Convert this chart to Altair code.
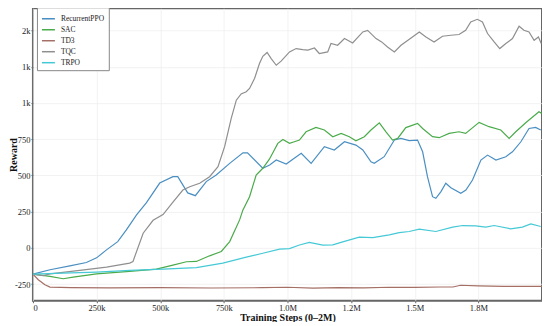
import altair as alt
import pandas as pd

# ---- data (steps in thousands, reward) ----
ppo_steps = [0, 67, 145, 210, 250, 289, 333, 367, 407, 446, 498, 550, 569, 608, 638, 681, 720, 773, 825, 843,
             903, 930, 956, 995, 1054, 1093, 1145, 1184, 1224, 1269, 1296, 1328, 1341, 1380, 1420, 1446, 1478,
             1511, 1531, 1550, 1570, 1583, 1603, 1622, 1642, 1681, 1701, 1727, 1760, 1786, 1819, 1858, 1884,
             1917, 1949, 1975, 1995]
ppo_vals = [-181, -151, -124, -101, -69, -14, 43, 124, 227, 312, 447, 491, 491, 379, 360, 457, 503, 583, 656, 656,
            549, 572, 606, 578, 652, 583, 698, 675, 732, 709, 675, 594, 583, 629, 744, 755, 740,
            744, 663, 491, 353, 342, 388, 446, 415, 377, 399, 468, 606, 640, 606, 629, 663,
            732, 824, 831, 813]

sac_steps = [0, 67, 119, 158, 250, 380, 485, 550, 603, 642, 694, 740, 773, 812, 825, 851, 877, 903, 929, 962,
             982, 1008, 1027, 1047, 1073, 1112, 1145, 1178, 1211, 1243, 1269, 1302, 1328, 1361, 1387, 1413, 1433,
             1465, 1511, 1531, 1570, 1596, 1635, 1674, 1700, 1753, 1792, 1838, 1871, 1897, 1936, 1988, 1999]
sac_vals = [-181, -197, -213, -202, -179, -163, -147, -119, -96, -94, -55, -25, 43, 193, 262, 353, 503, 549, 612, 721,
            748, 721, 732, 744, 801, 831, 813, 767, 790, 767, 739, 767, 813, 863, 801, 744, 755,
            830, 859, 824, 767, 760, 790, 801, 790, 866, 836, 813, 755, 801, 863, 939, 928]

td3_steps = [0, 21, 47, 67, 150, 300, 500, 700, 900, 1000, 1100, 1200, 1300, 1400, 1500, 1600, 1650, 1680,
             1750, 1850, 2000]
td3_vals = [-181, -220, -255, -271, -274, -276, -275, -277, -275, -272, -278, -274, -276, -272, -273, -270, -270,
            -258, -262, -266, -266]

tqc_steps = [0, 40, 67, 184, 289, 380, 393, 433, 472, 511, 550, 589, 616, 655, 694, 727, 753, 779, 799, 818,
             838, 851, 871, 890, 903, 920, 936, 956, 975, 1008, 1034, 1060, 1080, 1106, 1125, 1158, 1171, 1197,
             1224, 1256, 1296, 1315, 1348, 1370, 1393, 1420, 1446, 1491, 1518, 1544, 1576, 1609, 1642, 1674,
             1700, 1720, 1746, 1766, 1786, 1812, 1834, 1858, 1884, 1910, 1929, 1949, 1969, 1986, 1997]
tqc_vals = [-181, -192, -180, -156, -133, -105, -94, 101, 190, 230, 315, 399, 422, 446, 491, 560, 698, 893, 1019,
            1062, 1077, 1100, 1170, 1272, 1322, 1348, 1306, 1260, 1288, 1352, 1375, 1368, 1364, 1379, 1341, 1352,
            1410, 1398, 1444, 1414, 1490, 1501, 1444, 1421, 1386, 1352, 1398, 1455, 1490, 1455, 1421, 1460, 1467,
            1472, 1501, 1559, 1577, 1559, 1479, 1421, 1375, 1410, 1444, 1529, 1501, 1490, 1432, 1455, 1410]

trpo_steps = [0, 119, 250, 380, 511, 642, 746, 838, 903, 969, 1008, 1047, 1086, 1139, 1178, 1217, 1282, 1335,
              1400, 1439, 1478, 1518, 1583, 1649, 1688, 1740, 1779, 1812, 1877, 1923, 1956, 1995]
trpo_vals = [-181, -174, -167, -156, -147, -136, -105, -64, -37, -9, -5, 20, 37, 19, 21, 41, 74, 71,
             90, 105, 113, 129, 113, 143, 154, 152, 143, 154, 131, 143, 165, 147]

series_names = ["RecurrentPPO", "SAC", "TD3", "TQC", "TRPO"]
series_colors = ["#4a8fc2", "#4aab4a", "#a56f66", "#8f8f8f", "#45c9d6"]

x_tick_values = [0, 250000, 500000, 750000, 1000000, 1250000, 1500000, 1750000]
x_tick_labels = ["0", "250k", "500k", "750k", "1.0M", "1.2M", "1.5M", "1.8M"]
y_tick_values = [-250, 0, 250, 500, 750, 1000, 1250, 1500]
y_tick_labels = ["-250", "0", "250", "500", "750", "1k", "1k", "2k"]

rows = []
for name, st, vs in zip(series_names,
                        [ppo_steps, sac_steps, td3_steps, tqc_steps, trpo_steps],
                        [ppo_vals, sac_vals, td3_vals, tqc_vals, trpo_vals]):
    for s, v in zip(st, vs):
        rows.append({"algo": name, "step": s * 1000, "reward": v})
df = pd.DataFrame(rows)


def label_expr(values, labels):
    expr = "''"
    for v, l in reversed(list(zip(values, labels))):
        expr = f"datum.value == {v} ? '{l}' : ({expr})"
    return expr


FONT = "Liberation Serif"

chart = alt.Chart(df).mark_line(strokeWidth=1.2).encode(
    x=alt.X("step:Q",
            scale=alt.Scale(domain=[0, 2000000], nice=False, zero=False),
            axis=alt.Axis(values=x_tick_values, labelExpr=label_expr(x_tick_values, x_tick_labels),
                          title="Training Steps (0–2M)", titleY=12, titleBaseline="top")),
    y=alt.Y("reward:Q",
            scale=alt.Scale(domain=[-365, 1653], nice=False, zero=False),
            axis=alt.Axis(values=y_tick_values, labelExpr=label_expr(y_tick_values, y_tick_labels),
                          title="Reward", titleX=-19, titleBaseline="middle")),
    color=alt.Color("algo:N",
                    scale=alt.Scale(domain=series_names, range=series_colors),
                    legend=alt.Legend(title=None, orient="none", legendX=4, legendY=-1,
                                      symbolType="stroke", symbolSize=169, symbolStrokeWidth=1.5,
                                      labelFont=FONT, labelFontSize=7.5, labelColor="#222",
                                      padding=4, rowPadding=-1.5, labelOffset=5,
                                      strokeColor="#888", fillColor="white")),
    detail="algo:N",
).properties(
    width=510, height=293,
    autosize=alt.AutoSizeParams(type="none"),
    padding={"left": 25, "top": 0, "right": 0, "bottom": 21},
).configure_view(
    stroke="#666", strokeWidth=2
).configure_axis(
    domain=False,
    grid=True, gridColor="#ececec", gridWidth=0.7,
    tickColor="#666", tickSize=2,
    labelFont=FONT, labelFontSize=8.5, labelColor="#222", labelPadding=1,
    titleFont=FONT, titleFontSize=10, titleFontWeight="bold", titleColor="#111",
)

chart.save("out.html", embed_options={"renderer": "svg", "actions": False})
